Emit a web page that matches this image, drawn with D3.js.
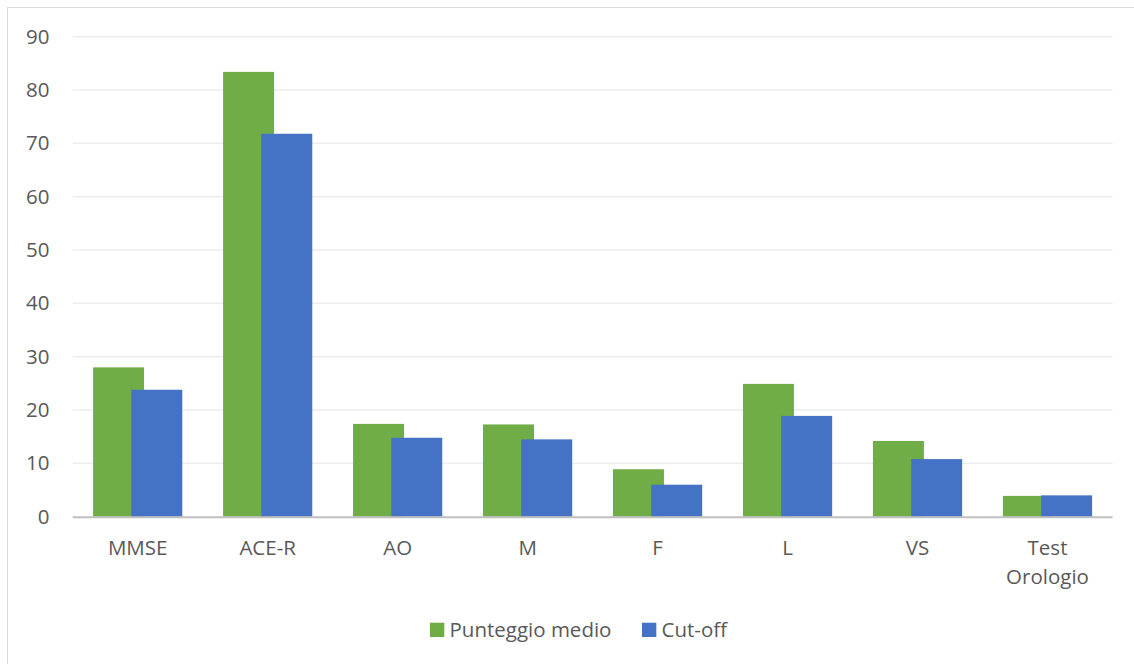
<!DOCTYPE html>
<html>
<head>
<meta charset="utf-8">
<script src="https://cdn.jsdelivr.net/npm/d3@7"></script>
<style>
  html, body { margin: 0; padding: 0; background: #fff; }
  svg { display: block; font-family: "Open Sans", "Noto Sans", sans-serif; }
</style>
</head>
<body>
<svg id="chart" width="1134" height="664"></svg>
<script>
// Test names (category axis); "\n" breaks a label onto two lines
const categories = ["MMSE", "ACE-R", "AO", "M", "F", "L", "VS", "Test\nOrologio"];
// Mean score per test
const punteggioMedio = [28, 83.4, 17.4, 17.3, 8.9, 24.9, 14.2, 3.9];
// Cut-off score per test
const cutOff = [23.8, 71.8, 14.8, 14.5, 6, 18.9, 10.8, 4];
const yTicks = [0, 10, 20, 30, 40, 50, 60, 70, 80, 90];
const seriesNames = ["Punteggio medio", "Cut-off"];
const seriesColors = ["#70AD47", "#4472C4"];

const svg = d3.select("#chart");
const W = 1134, H = 664;
const plot = { left: 72.7, right: 1112.5, top: 36.7, bottom: 516.7 };
const textColor = "#595959";
const fontSize = "20.5px";

// Outer chart frame (only top and left edges fall inside the view)
svg.append("rect")
  .attr("x", 7.5).attr("y", 7.5)
  .attr("width", W + 20).attr("height", H + 20)
  .attr("fill", "#fff").attr("stroke", "#D9D9D9").attr("stroke-width", 1);

const x = d3.scaleBand()
  .domain(categories)
  .range([plot.left, plot.right])
  .paddingInner(0).paddingOuter(0);

const y = d3.scaleLinear()
  .domain([0, 90])
  .range([plot.bottom, plot.top]);

// Horizontal gridlines
svg.append("g")
  .selectAll("line")
  .data(yTicks.filter(t => t > 0))
  .join("line")
  .attr("x1", plot.left).attr("x2", plot.right)
  .attr("y1", d => y(d)).attr("y2", d => y(d))
  .attr("stroke", "#EDEDED").attr("stroke-width", 1.5);

// Y axis labels
const yAxis = d3.axisLeft(y).tickValues(yTicks).tickSize(0).tickPadding(0);
const gy = svg.append("g")
  .attr("transform", `translate(${49.5},0)`)
  .call(yAxis);
gy.select(".domain").remove();
gy.selectAll("text")
  .attr("fill", textColor)
  .style("font-size", fontSize)
  .style("font-family", "\"Open Sans\", sans-serif");

// Bars: each pair overlaps by a quarter of a bar width, cut-off drawn on top
const bandW = x.bandwidth();
const barW = bandW / (1.75 + 0.8);
const overlap = 0.25 * barW;
const groupW = 2 * barW - overlap;

const rows = categories.map((c, i) => ({ c, vals: [punteggioMedio[i], cutOff[i]] }));

seriesNames.forEach((name, s) => {
  svg.append("g")
    .selectAll("rect")
    .data(rows)
    .join("rect")
    .attr("x", d => x(d.c) + (bandW - groupW) / 2 + s * (barW - overlap))
    .attr("y", d => y(d.vals[s]))
    .attr("width", barW)
    .attr("height", d => y(0) - y(d.vals[s]))
    .attr("fill", seriesColors[s]);
});

// Category axis line
svg.append("line")
  .attr("x1", plot.left).attr("x2", plot.right)
  .attr("y1", y(0) + 0.5).attr("y2", y(0) + 0.5)
  .attr("stroke", "#BFBFBF").attr("stroke-width", 2);

// Category labels
const xl = svg.append("g");
categories.forEach(c => {
  const lines = c.split("\n");
  const t = xl.append("text")
    .attr("x", x(c) + bandW / 2)
    .attr("y", 555)
    .attr("text-anchor", "middle")
    .attr("fill", textColor)
    .style("font-size", fontSize);
  lines.forEach((ln, k) => {
    t.append("tspan")
      .attr("x", x(c) + bandW / 2)
      .attr("dy", k === 0 ? 0 : 29)
      .text(ln);
  });
});

// Legend
const legend = svg.append("g");
const legendItems = [
  { name: seriesNames[0], color: seriesColors[0], x: 430 },
  { name: seriesNames[1], color: seriesColors[1], x: 642 }
];
legendItems.forEach(it => {
  legend.append("rect")
    .attr("x", it.x).attr("y", 622.7)
    .attr("width", 14.3).attr("height", 14.3)
    .attr("fill", it.color);
  legend.append("text")
    .attr("x", it.x + 19.5).attr("y", 637)
    .attr("fill", textColor)
    .style("font-size", fontSize)
    .text(it.name);
});
</script>
</body>
</html>
